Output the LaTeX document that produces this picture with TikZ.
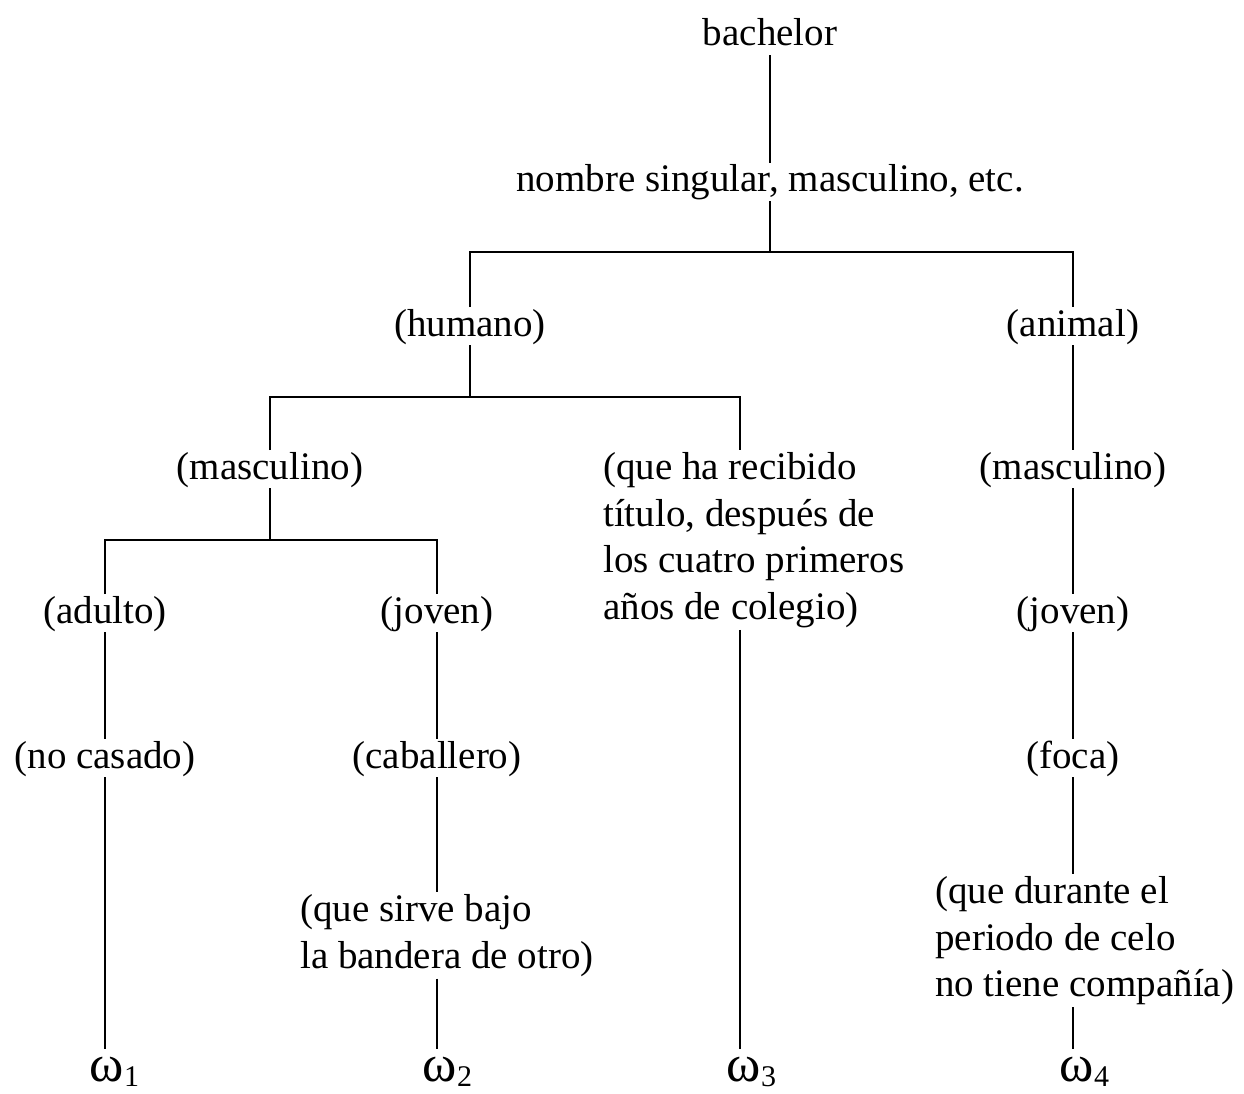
\documentclass[tikz,border=0pt]{standalone}
\usepackage{fontspec}
\setmainfont{Liberation Serif}
\begin{document}
\begin{tikzpicture}[x=1pt,y=-1pt,
  lbl/.style={anchor=base, inner xsep=0pt, inner ysep=2pt, text height=26.6pt, text depth=7pt, font=\fontsize{39}{46.5}\selectfont},
  multi/.style={anchor=north west, align=left, inner xsep=0pt, inner ysep=2pt, font=\fontsize{39}{46.5}\selectfont},
  omg/.style={anchor=base, inner xsep=0pt, inner ysep=2pt, text height=30pt, text depth=0pt, font=\fontsize{52}{56}\selectfont},
  edge/.style={line width=1.4pt}]
\useasboundingbox (0,0) rectangle (1244,1094);
\newcommand{\omsub}[1]{\rlap{\raisebox{-5pt}{\fontsize{30}{30}\selectfont #1}}}
% nodes
\node[lbl] (bach) at (770,46) {bachelor};
\node[lbl] (nom) at (770,192) {nombre singular, masculino, etc.};
\coordinate (r1) at (770,252);
\node[lbl] (hum) at (470,336) {(humano)};
\node[lbl] (ani) at (1073,336) {(animal)};
\coordinate (r2) at (470,397);
\node[lbl] (masc) at (270,479) {(masculino)};
\node[multi] (tit) at (603,450.4) {(que ha recibido\\título, después de\\los cuatro primeros\\años de colegio)};
\coordinate (hR) at (740,397);
\coordinate (r3) at (270,540);
\node[lbl] (adu) at (105,623) {(adulto)};
\node[lbl] (jov) at (437,623) {(joven)};
\node[lbl] (nocas) at (105,768) {(no casado)};
\node[lbl] (cab) at (437,768) {(caballero)};
\node[multi] (sir) at (300,892.4) {(que sirve bajo\\la bandera de otro)};
\node[lbl] (mascR) at (1073,479) {(masculino)};
\node[lbl] (jovR) at (1073,623) {(joven)};
\node[lbl] (foca) at (1073,768) {(foca)};
\node[multi] (dur) at (935,874.4) {(que durante el\\periodo de celo\\no tiene compañía)};
\node[omg] (w1) at (107,1081) {ω\omsub{1}};
\node[omg] (w2) at (440,1081) {ω\omsub{2}};
\node[omg] (w3) at (744,1081) {ω\omsub{3}};
\node[omg] (w4) at (1077,1081) {ω\omsub{4}};
% connectors
\draw[edge] (bach) -- (nom);
\draw[edge] (nom) -- (r1);
\draw[edge] (hum.north) -- (hum.north |- r1) -- (ani.north |- r1) -- (ani.north);
\draw[edge] (hum) -- (r2);
\draw[edge] (masc.north) -- (masc.north |- r2) -- (hR) -- (hR |- tit.north);
\draw[edge] (hR |- tit.south) -- (hR |- w3.north);
\draw[edge] (masc) -- (r3);
\draw[edge] (adu.north) -- (adu.north |- r3) -- (jov.north |- r3) -- (jov.north);
\draw[edge] (adu) -- (nocas);
\draw[edge] (nocas.south) -- (nocas.south |- w1.north);
\draw[edge] (jov) -- (cab);
\draw[edge] (cab.south) -- (cab.south |- sir.north);
\draw[edge] (cab.south |- sir.south) -- (cab.south |- w2.north);
\draw[edge] (ani) -- (mascR);
\draw[edge] (mascR) -- (jovR);
\draw[edge] (jovR) -- (foca);
\draw[edge] (foca.south) -- (foca.south |- dur.north);
\draw[edge] (foca.south |- dur.south) -- (foca.south |- w4.north);
\end{tikzpicture}
\end{document}
